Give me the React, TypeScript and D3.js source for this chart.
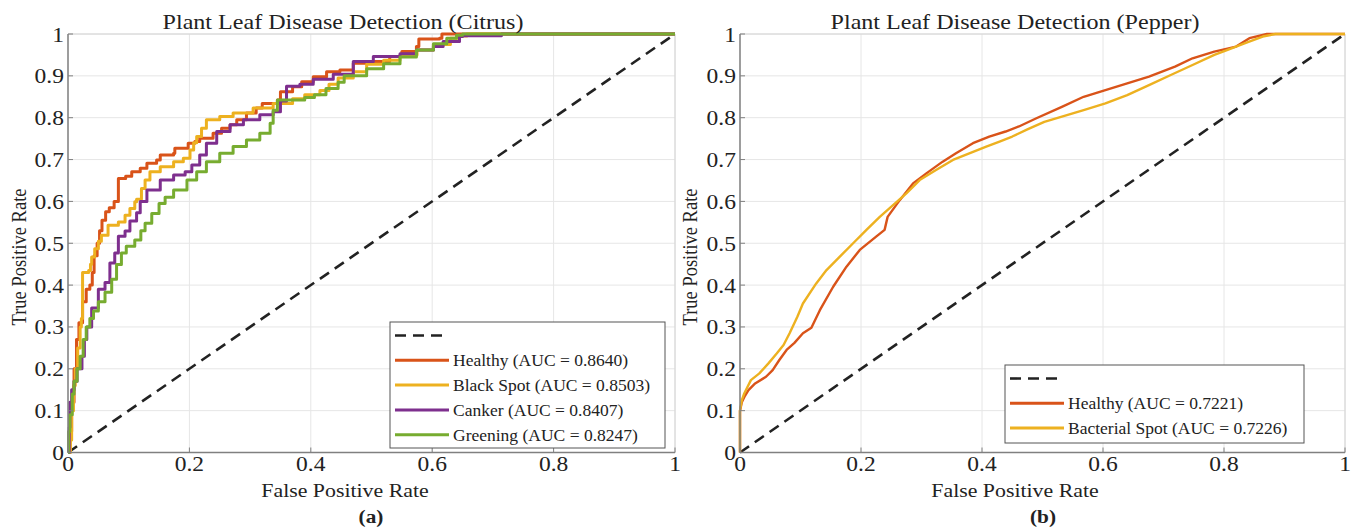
import React from "react";
import * as d3 from "d3";

type Pt = [number, number];

// ROC points: [false positive rate, true positive rate]
const citrusHealthy: Pt[] = [
  [0, 0], [0.003, 0.05], [0.006, 0.12], [0.01, 0.2], [0.014, 0.27], [0.018, 0.31], [0.024, 0.36],
  [0.03, 0.39], [0.036, 0.4], [0.04, 0.43], [0.043, 0.47], [0.048, 0.5], [0.052, 0.53], [0.056, 0.555],
  [0.062, 0.575], [0.068, 0.585], [0.076, 0.6], [0.083, 0.605], [0.083, 0.655], [0.095, 0.66],
  [0.105, 0.671], [0.119, 0.679], [0.13, 0.691], [0.146, 0.699], [0.152, 0.711], [0.174, 0.715],
  [0.176, 0.727], [0.198, 0.739], [0.209, 0.743], [0.217, 0.751], [0.239, 0.763], [0.253, 0.775],
  [0.267, 0.783], [0.278, 0.795], [0.294, 0.811], [0.31, 0.823], [0.32, 0.834], [0.345, 0.842],
  [0.35, 0.862], [0.37, 0.874], [0.385, 0.886], [0.404, 0.898], [0.426, 0.91], [0.448, 0.914],
  [0.47, 0.93], [0.492, 0.934], [0.53, 0.946], [0.55, 0.958], [0.574, 0.97], [0.578, 0.988],
  [0.612, 0.99], [0.616, 1], [1, 1],
];
const citrusBlackSpot: Pt[] = [
  [0, 0], [0.004, 0.03], [0.006, 0.1], [0.009, 0.16], [0.012, 0.2], [0.016, 0.25], [0.02, 0.3],
  [0.022, 0.32], [0.024, 0.34], [0.024, 0.43], [0.034, 0.435], [0.037, 0.45], [0.039, 0.467],
  [0.044, 0.487], [0.05, 0.505], [0.055, 0.519], [0.066, 0.543], [0.083, 0.551], [0.094, 0.567],
  [0.102, 0.583], [0.11, 0.599], [0.113, 0.605], [0.121, 0.631], [0.127, 0.651], [0.135, 0.671],
  [0.152, 0.683], [0.174, 0.695], [0.19, 0.703], [0.201, 0.723], [0.207, 0.74], [0.212, 0.755],
  [0.22, 0.775], [0.228, 0.795], [0.25, 0.803], [0.272, 0.811], [0.305, 0.823], [0.338, 0.834],
  [0.37, 0.845], [0.39, 0.855], [0.415, 0.865], [0.43, 0.88], [0.445, 0.895], [0.47, 0.91],
  [0.492, 0.928], [0.52, 0.937], [0.547, 0.95], [0.575, 0.962], [0.602, 0.975], [0.63, 0.99],
  [0.645, 0.995], [0.657, 1], [1, 1],
];
const citrusCanker: Pt[] = [
  [0, 0], [0.002, 0.06], [0.003, 0.12], [0.006, 0.15], [0.01, 0.17], [0.015, 0.2], [0.023, 0.23],
  [0.027, 0.27], [0.031, 0.3], [0.039, 0.345], [0.05, 0.39], [0.061, 0.406], [0.069, 0.453],
  [0.077, 0.477], [0.083, 0.517], [0.094, 0.529], [0.102, 0.553], [0.113, 0.573], [0.119, 0.6],
  [0.13, 0.627], [0.152, 0.651], [0.174, 0.663], [0.193, 0.671], [0.204, 0.687], [0.217, 0.711],
  [0.228, 0.739], [0.245, 0.767], [0.267, 0.783], [0.289, 0.795], [0.316, 0.807], [0.338, 0.814],
  [0.35, 0.84], [0.36, 0.875], [0.382, 0.88], [0.404, 0.892], [0.437, 0.904], [0.47, 0.934],
  [0.503, 0.946], [0.547, 0.953], [0.574, 0.962], [0.602, 0.97], [0.618, 0.982], [0.645, 0.994],
  [0.65, 0.996], [0.714, 0.996], [0.714, 1], [1, 1],
];
const citrusGreening: Pt[] = [
  [0, 0], [0.001, 0.05], [0.003, 0.09], [0.007, 0.14], [0.01, 0.17], [0.015, 0.2], [0.02, 0.23],
  [0.025, 0.27], [0.03, 0.3], [0.036, 0.32], [0.042, 0.338], [0.05, 0.36], [0.061, 0.383],
  [0.072, 0.414], [0.08, 0.449], [0.088, 0.477], [0.096, 0.493], [0.11, 0.508], [0.12, 0.53],
  [0.127, 0.548], [0.138, 0.571], [0.15, 0.595], [0.16, 0.61], [0.174, 0.627], [0.196, 0.651],
  [0.212, 0.671], [0.228, 0.695], [0.25, 0.715], [0.272, 0.731], [0.294, 0.747], [0.316, 0.763],
  [0.333, 0.787], [0.338, 0.818], [0.345, 0.842], [0.39, 0.848], [0.406, 0.855], [0.425, 0.87],
  [0.445, 0.885], [0.455, 0.9], [0.492, 0.917], [0.52, 0.929], [0.547, 0.945], [0.574, 0.962],
  [0.602, 0.977], [0.624, 0.99], [0.64, 0.997], [0.65, 1], [1, 1],
];

const pepperHealthy: Pt[] = [
  [0, 0], [0, 0.1], [0.003, 0.12], [0.008, 0.135], [0.014, 0.149], [0.025, 0.165], [0.043, 0.181],
  [0.054, 0.197], [0.065, 0.221], [0.077, 0.245], [0.09, 0.262], [0.104, 0.285], [0.118, 0.298],
  [0.132, 0.34], [0.154, 0.396], [0.176, 0.444], [0.198, 0.484], [0.225, 0.516], [0.239, 0.532],
  [0.244, 0.563], [0.264, 0.603], [0.286, 0.643], [0.308, 0.667], [0.335, 0.695], [0.357, 0.715],
  [0.385, 0.739], [0.412, 0.755], [0.439, 0.767], [0.461, 0.779], [0.489, 0.798], [0.532, 0.826],
  [0.568, 0.85], [0.604, 0.866], [0.64, 0.882], [0.676, 0.898], [0.719, 0.922], [0.748, 0.942],
  [0.784, 0.958], [0.82, 0.97], [0.842, 0.99], [0.871, 1], [1, 1],
];
const pepperBacterialSpot: Pt[] = [
  [0, 0], [0, 0.1], [0.003, 0.125], [0.007, 0.141], [0.018, 0.173], [0.032, 0.189], [0.047, 0.213],
  [0.061, 0.237], [0.072, 0.257], [0.082, 0.285], [0.095, 0.325], [0.104, 0.356], [0.126, 0.404],
  [0.143, 0.436], [0.165, 0.468], [0.187, 0.5], [0.209, 0.532], [0.231, 0.563], [0.253, 0.591],
  [0.275, 0.619], [0.297, 0.651], [0.324, 0.675], [0.352, 0.699], [0.379, 0.715], [0.407, 0.731],
  [0.429, 0.743], [0.45, 0.755], [0.475, 0.772], [0.503, 0.79], [0.568, 0.818], [0.604, 0.834],
  [0.64, 0.854], [0.676, 0.878], [0.712, 0.902], [0.748, 0.926], [0.784, 0.95], [0.806, 0.962],
  [0.835, 0.978], [0.864, 0.994], [0.885, 1], [1, 1],
];

const chanceLine: Pt[] = [[0, 0], [1, 1]];

const xTicks = [0, 0.2, 0.4, 0.6, 0.8, 1];
const xTickLabels = ["0", "0.2", "0.4", "0.6", "0.8", "1"];
const yTicks = [0, 0.1, 0.2, 0.3, 0.4, 0.5, 0.6, 0.7, 0.8, 0.9, 1];
const yTickLabels = ["0", "0.1", "0.2", "0.3", "0.4", "0.5", "0.6", "0.7", "0.8", "0.9", "1"];

const citrusNames = ["Healthy (AUC = 0.8640)", "Black Spot (AUC = 0.8503)", "Canker (AUC = 0.8407)", "Greening (AUC = 0.8247)"];
const pepperNames = ["Healthy (AUC = 0.7221)", "Bacterial Spot (AUC = 0.7226)"];

const citrusColors = ["#D95319", "#EDB120", "#7E2F8E", "#77AC30"];
const pepperColors = ["#D95319", "#EDB120"];

const SERIF = "'Liberation Serif', 'Times New Roman', Times, serif";

type TxtProps = {
  x: number; y: number; size: number; anchor?: string; weight?: string;
  stretch?: number; vertical?: boolean; children: React.ReactNode;
};

// the source figure is widened a little, so text is scaled along the page's x
function Txt({ x, y, size, anchor = "middle", weight = "normal", stretch = 1.12, vertical = false, children }: TxtProps) {
  const t = vertical
    ? `translate(${x},${y}) rotate(-90) scale(1,${stretch})`
    : `translate(${x},${y}) scale(${stretch},1)`;
  return (
    <text transform={t} textAnchor={anchor} fontFamily={SERIF} fontSize={size} fontWeight={weight} fill="#222">
      {children}
    </text>
  );
}

type PanelProps = {
  left: number;
  width: number;
  title: string;
  titleX: number;
  xLabelX: number;
  yLabelX: number;
  figLabel: string;
  figLabelX: number;
  series: Pt[][];
  colors: string[];
  names: string[];
  stepped: boolean;
  lineWidth: number;
  legendBox: { x: number; y: number; w: number; h: number };
  rowGap: number;
};

function RocPanel(p: PanelProps) {
  const top = 34;
  const bottom = 452.5;
  const x = d3.scaleLinear().domain([0, 1]).range([p.left, p.left + p.width]);
  const y = d3.scaleLinear().domain([0, 1]).range([bottom, top]);

  const line = d3
    .line<Pt>()
    .x((d) => x(d[0]))
    .y((d) => y(d[1]))
    .curve(p.stepped ? d3.curveStepAfter : d3.curveLinear);
  const straight = d3.line<Pt>().x((d) => x(d[0])).y((d) => y(d[1]));

  const lb = p.legendBox;
  const sampleX0 = lb.x + 5;
  const sampleX1 = lb.x + 59;
  const firstRow = lb.y + 13.5;

  return (
    <g>
      {/* grid */}
      {xTicks.map((t) => (
        <line key={"gx" + t} x1={x(t)} x2={x(t)} y1={top} y2={bottom} stroke="#e6e6e6" strokeWidth={1} />
      ))}
      {yTicks.map((t) => (
        <line key={"gy" + t} x1={p.left} x2={p.left + p.width} y1={y(t)} y2={y(t)} stroke="#e6e6e6" strokeWidth={1} />
      ))}
      {/* box: light on top/right */}
      <line x1={p.left} x2={p.left + p.width} y1={top} y2={top} stroke="#d4d4d4" strokeWidth={1} />
      <line x1={p.left + p.width} x2={p.left + p.width} y1={top} y2={bottom} stroke="#d4d4d4" strokeWidth={1} />

      {/* curves */}
      <path d={straight(chanceLine) ?? ""} fill="none" stroke="#222" strokeWidth={2.6} strokeDasharray="11,7" />
      {p.series.map((s, i) => (
        <path key={"s" + i} d={line(s) ?? ""} fill="none" stroke={p.colors[i]} strokeWidth={p.lineWidth} strokeLinejoin="round" />
      ))}

      {/* axes */}
      <line x1={p.left} x2={p.left} y1={top} y2={bottom} stroke="#808080" strokeWidth={1.5} />
      <line x1={p.left} x2={p.left + p.width} y1={bottom} y2={bottom} stroke="#808080" strokeWidth={1.5} />
      {yTicks.map((t) => (
        <line key={"ty" + t} x1={p.left} x2={p.left + 5} y1={y(t)} y2={y(t)} stroke="#808080" strokeWidth={1} />
      ))}
      {xTicks.map((t) => (
        <line key={"tx" + t} x1={x(t)} x2={x(t)} y1={bottom} y2={bottom - 5} stroke="#808080" strokeWidth={1} />
      ))}
      {yTicks.map((t, i) => (
        <Txt key={"ly" + t} x={p.left - 4} y={y(t) + 7.5} size={21} anchor="end">
          {yTickLabels[i]}
        </Txt>
      ))}
      {xTicks.map((t, i) => (
        <Txt key={"lx" + t} x={x(t)} y={bottom + 18.5} size={21}>
          {xTickLabels[i]}
        </Txt>
      ))}

      {/* labels */}
      <Txt x={p.titleX} y={29} size={21.5}>{p.title}</Txt>
      <Txt x={p.xLabelX} y={497} size={19.5}>False Positive Rate</Txt>
      <Txt x={p.yLabelX} y={257} size={18.5} stretch={1.15} vertical>True Positive Rate</Txt>
      <Txt x={p.figLabelX} y={523} size={19} weight="bold">{p.figLabel}</Txt>

      {/* legend */}
      <rect x={lb.x} y={lb.y} width={lb.w} height={lb.h} fill="#fff" stroke="#555" strokeWidth={1} />
      <line x1={sampleX0} x2={sampleX1} y1={firstRow} y2={firstRow} stroke="#222" strokeWidth={2.6} strokeDasharray="11,7" />
      {p.names.map((n, i) => {
        const ry = firstRow + (i + 1) * p.rowGap;
        return (
          <g key={"lg" + i}>
            <line x1={sampleX0} x2={sampleX1} y1={ry} y2={ry} stroke={p.colors[i]} strokeWidth={3} />
            <Txt x={sampleX1 + 4} y={ry + 6} size={17.5} stretch={1.0} anchor="start">{n}</Txt>
          </g>
        );
      })}
    </g>
  );
}

export default function App() {
  return (
    <svg
      width={1351}
      height={527}
      style={{ position: "absolute", left: 0, top: 0, background: "#fff" }}
    >
      <rect width={1351} height={527} fill="#fff" />
      <RocPanel
        left={68}
        width={607}
        title="Plant Leaf Disease Detection (Citrus)"
        titleX={343}
        xLabelX={345}
        yLabelX={26}
        figLabel="(a)"
        figLabelX={371}
        series={[citrusHealthy, citrusBlackSpot, citrusCanker, citrusGreening]}
        colors={citrusColors}
        names={citrusNames}
        stepped={true}
        lineWidth={3}
        legendBox={{ x: 390, y: 322, w: 275, h: 126 }}
        rowGap={24.8}
      />
      <RocPanel
        left={740}
        width={605}
        title="Plant Leaf Disease Detection (Pepper)"
        titleX={1015}
        xLabelX={1015}
        yLabelX={697}
        figLabel="(b)"
        figLabelX={1043}
        series={[pepperHealthy, pepperBacterialSpot]}
        colors={pepperColors}
        names={pepperNames}
        stepped={false}
        lineWidth={2.4}
        legendBox={{ x: 1005, y: 365, w: 299, h: 78 }}
        rowGap={24.7}
      />
    </svg>
  );
}
